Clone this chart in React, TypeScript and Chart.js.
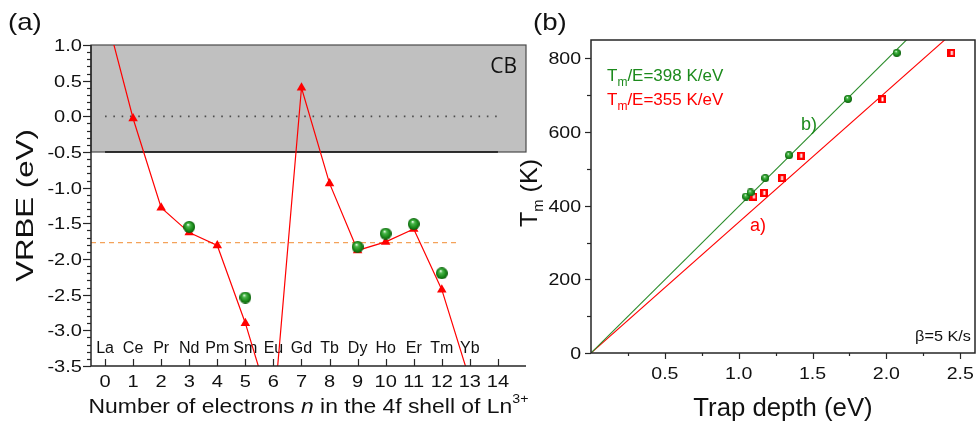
import React, { useEffect, useRef } from 'react';
import { Chart, registerables } from 'chart.js';
Chart.register(...registerables);

// ---------------- Panel (a) data ----------------
const ln2Electrons = [0, 1, 2, 3, 4, 5, 6, 7, 8, 9, 10, 11, 12, 13];
const ln2VRBE = [1.48, -0.03, -1.28, -1.63, -1.81, -2.9, -4.2, 0.4, -0.94, -1.88, -1.76, -1.58, -2.43, -3.7];
const trapElectrons = [3, 5, 9, 10, 11, 12];
const trapVRBE = [-1.55, -2.54, -1.83, -1.645, -1.51, -2.2];
const lnNames = ['La', 'Ce', 'Pr', 'Nd', 'Pm', 'Sm', 'Eu', 'Gd', 'Tb', 'Dy', 'Ho', 'Er', 'Tm', 'Yb'];
const lnNameN = [0, 1, 2, 3, 4, 5, 6, 7, 8, 9, 10, 11, 12, 13];
const lnNameVRBE = -3.32;
const electronTicks = [0, 1, 2, 3, 4, 5, 6, 7, 8, 9, 10, 11, 12, 13, 14];
const vrbeTicks = [1.0, 0.5, 0.0, -0.5, -1.0, -1.5, -2.0, -2.5, -3.0, -3.5];
const cbBottom = -0.5;
const cbTop = 1.0;
const vacuumLevel = 0;
const dashedLevel = -1.77;
const levelLineN = [0, 14];
const dashedLineN = [-0.5, 12.55];

// ---------------- Panel (b) data ----------------
const greenDepth = [1.05, 1.08, 1.18, 1.34, 1.74, 2.07];
const greenTm = [425, 436, 475, 537, 690, 815];
const redDepth = [1.1, 1.17, 1.29, 1.42, 1.97, 2.44];
const redTm = [425, 435, 475, 536, 689, 815];
const greenSlope = 398;
const redSlope = 355;
const fitDepth = [0, 2.6];
const depthTicks = [0.5, 1.0, 1.5, 2.0, 2.5];
const tmTicks = [0, 200, 400, 600, 800];

const FONT = '"Liberation Sans", Arial, sans-serif';
const GREEN = '#1c8a1c';
const RED = '#ff0000';
const AXIS = '#262626';

type Seg = { t: string; size: number; dy?: number; italic?: boolean; family?: string };

function drawRich(
  ctx: CanvasRenderingContext2D,
  segs: Seg[],
  x: number,
  y: number,
  align: 'left' | 'center' | 'right',
  color: string,
  rot = 0,
  sx = 1
) {
  ctx.save();
  ctx.translate(x, y);
  if (rot) ctx.rotate(rot);
  ctx.scale(sx, 1);
  ctx.fillStyle = color;
  ctx.textBaseline = 'alphabetic';
  ctx.textAlign = 'left';
  const fonts = segs.map((s) => `${s.italic ? 'italic ' : ''}${s.size}px ${s.family || FONT}`);
  let total = 0;
  const ws = segs.map((s, i) => {
    ctx.font = fonts[i];
    const w = ctx.measureText(s.t).width;
    total += w;
    return w;
  });
  let cx = align === 'left' ? 0 : align === 'center' ? -total / 2 : -total;
  segs.forEach((s, i) => {
    ctx.font = fonts[i];
    ctx.fillText(s.t, cx, s.dy || 0);
    cx += ws[i];
  });
  ctx.restore();
}

function makeSphere(d: number) {
  const c = document.createElement('canvas');
  c.width = d;
  c.height = d;
  const g = c.getContext('2d')!;
  const r = d / 2;
  const grad = g.createRadialGradient(r * 0.8, r * 0.6, r * 0.05, r, r, r);
  grad.addColorStop(0, '#f0fff0');
  grad.addColorStop(0.25, '#4cb84c');
  grad.addColorStop(0.7, '#1a8a1a');
  grad.addColorStop(1, '#0a5a0a');
  g.fillStyle = grad;
  g.beginPath();
  g.arc(r, r, r, 0, Math.PI * 2);
  g.fill();
  return c;
}

function makeHalfSquare(d: number) {
  const c = document.createElement('canvas');
  c.width = d;
  c.height = d;
  const g = c.getContext('2d')!;
  g.fillStyle = RED;
  g.fillRect(0, 0, d, d);
  g.fillStyle = '#ffffff';
  g.fillRect(d / 2 - 0.5, 2, 2, d - 4);
  return c;
}

const panelA = {
  id: 'panelA',
  beforeDatasetsDraw(chart: any) {
    const { ctx, chartArea: a, scales } = chart;
    const x = scales.x;
    const y = scales.y;
    ctx.save();
    const top = y.getPixelForValue(cbTop);
    const bot = y.getPixelForValue(cbBottom);
    ctx.fillStyle = '#c0c0c0';
    ctx.fillRect(a.left, top, a.right - a.left, bot - top);
    ctx.strokeStyle = '#4a4a4a';
    ctx.lineWidth = 1.2;
    ctx.strokeRect(a.left, top, a.right - a.left, bot - top);
    // conduction band bottom line
    ctx.strokeStyle = '#111';
    ctx.lineWidth = 1.5;
    ctx.beginPath();
    ctx.moveTo(x.getPixelForValue(levelLineN[0]), bot);
    ctx.lineTo(x.getPixelForValue(levelLineN[1]), bot);
    ctx.stroke();
    // dotted vacuum level
    const yv = y.getPixelForValue(vacuumLevel);
    ctx.strokeStyle = '#4d4d4d';
    ctx.lineWidth = 1.6;
    ctx.setLineDash([1.6, 6.7]);
    ctx.beginPath();
    ctx.moveTo(x.getPixelForValue(levelLineN[0]), yv);
    ctx.lineTo(x.getPixelForValue(levelLineN[1]), yv);
    ctx.stroke();
    // dashed orange level
    const yd = y.getPixelForValue(dashedLevel);
    ctx.strokeStyle = '#f4a25a';
    ctx.lineWidth = 1.3;
    ctx.setLineDash([5, 4]);
    ctx.beginPath();
    ctx.moveTo(x.getPixelForValue(dashedLineN[0]), yd);
    ctx.lineTo(x.getPixelForValue(dashedLineN[1]), yd);
    ctx.stroke();
    ctx.setLineDash([]);
    // element labels
    lnNames.forEach((nm, i) => {
      drawRich(ctx, [{ t: nm, size: 16 }], x.getPixelForValue(lnNameN[i]), y.getPixelForValue(lnNameVRBE), 'center', '#111');
    });
    // CB
    drawRich(ctx, [{ t: 'CB', size: 21, family: '"Open Sans", sans-serif' }], a.right - 9, top + 28, 'right', '#111');
    ctx.restore();
  },
  afterDraw(chart: any) {
    const { ctx, chartArea: a, scales } = chart;
    const x = scales.x;
    const y = scales.y;
    ctx.save();
    ctx.strokeStyle = AXIS;
    ctx.lineWidth = 1.5;
    ctx.beginPath();
    ctx.moveTo(a.left, a.top);
    ctx.lineTo(a.left, a.bottom);
    ctx.lineTo(a.right, a.bottom);
    ctx.stroke();
    ctx.lineWidth = 1.2;
    // y ticks (outward), minor every 0.1
    for (let k = -35; k <= 10; k++) {
      const v = k / 10;
      const py = Math.round(y.getPixelForValue(v)) + 0.5;
      const major = k % 5 === 0;
      ctx.beginPath();
      ctx.moveTo(a.left, py);
      ctx.lineTo(a.left - (major ? 8 : 4), py);
      ctx.stroke();
    }
    // x ticks (inward)
    electronTicks.forEach((n) => {
      const px = Math.round(x.getPixelForValue(n)) + 0.5;
      ctx.beginPath();
      ctx.moveTo(px, a.bottom);
      ctx.lineTo(px, a.bottom - 7);
      ctx.stroke();
    });
    vrbeTicks.forEach((v) => {
      drawRich(ctx, [{ t: v.toFixed(1), size: 17 }], a.left - 9, y.getPixelForValue(v) + 6, 'right', '#111', 0, 1.18);
    });
    electronTicks.forEach((n) => {
      drawRich(ctx, [{ t: String(n), size: 17 }], x.getPixelForValue(n), 387, 'center', '#111', 0, 1.18);
    });
    // axis titles
    drawRich(
      ctx,
      [
        { t: 'Number of electrons ', size: 21 },
        { t: 'n', size: 21, italic: true },
        { t: ' in the 4f shell of Ln', size: 21 },
        { t: '3+', size: 13, dy: -10 },
      ],
      (a.left + a.right) / 2,
      413,
      'center',
      '#111',
      0,
      1.09
    );
    drawRich(ctx, [{ t: 'VRBE (eV)', size: 24 }], 33, (a.top + a.bottom) / 2, 'center', '#111', -Math.PI / 2, 1.3);
    drawRich(ctx, [{ t: '(a)', size: 24 }], 8, 30, 'left', '#111', 0, 1.15);
    ctx.restore();
  },
};

const panelB = {
  id: 'panelB',
  afterDraw(chart: any) {
    const { ctx, chartArea: a, scales } = chart;
    const x = scales.x;
    const y = scales.y;
    ctx.save();
    ctx.strokeStyle = AXIS;
    ctx.lineWidth = 1.5;
    ctx.strokeRect(a.left, a.top, a.right - a.left, a.bottom - a.top);
    ctx.lineWidth = 1.2;
    for (let v = 0; v <= 800; v += 100) {
      const py = Math.round(y.getPixelForValue(v)) + 0.5;
      const major = v % 200 === 0;
      ctx.beginPath();
      ctx.moveTo(a.left, py);
      ctx.lineTo(a.left - (major ? 6 : 4), py);
      ctx.stroke();
    }
    for (let k = 1; k <= 10; k++) {
      const v = k * 0.25;
      const px = Math.round(x.getPixelForValue(v)) + 0.5;
      const major = k % 2 === 0;
      ctx.beginPath();
      ctx.moveTo(px, a.bottom);
      ctx.lineTo(px, a.bottom + (major ? 6 : 3));
      ctx.stroke();
    }
    tmTicks.forEach((v) => {
      drawRich(ctx, [{ t: String(v), size: 17 }], a.left - 10, y.getPixelForValue(v) + 6, 'right', '#111', 0, 1.15);
    });
    depthTicks.forEach((v) => {
      drawRich(ctx, [{ t: v.toFixed(1), size: 17 }], x.getPixelForValue(v), 379, 'center', '#111', 0, 1.15);
    });
    drawRich(ctx, [{ t: 'Trap depth (eV)', size: 25 }], (a.left + a.right) / 2, 416, 'center', '#111', 0, 1.03);
    drawRich(
      ctx,
      [
        { t: 'T', size: 24 },
        { t: 'm', size: 14, dy: 6 },
        { t: ' (K)', size: 24 },
      ],
      537,
      193,
      'center',
      '#111',
      -Math.PI / 2,
      1.05
    );
    drawRich(ctx, [{ t: '(b)', size: 24 }], 533, 30, 'left', '#111', 0, 1.15);
    drawRich(
      ctx,
      [
        { t: 'T', size: 17 },
        { t: 'm', size: 12, dy: 5 },
        { t: '/E=' + greenSlope + ' K/eV', size: 17 },
      ],
      607,
      81,
      'left',
      GREEN
    );
    drawRich(
      ctx,
      [
        { t: 'T', size: 17 },
        { t: 'm', size: 12, dy: 5 },
        { t: '/E=' + redSlope + ' K/eV', size: 17 },
      ],
      607,
      105,
      'left',
      RED
    );
    drawRich(ctx, [{ t: 'b)', size: 18 }], 801, 130, 'left', GREEN);
    drawRich(ctx, [{ t: 'a)', size: 18 }], 750, 231, 'left', RED);
    drawRich(ctx, [{ t: 'β=5 K/s', size: 15.5 }], 971, 341, 'right', '#111', 0, 1.05);
    ctx.restore();
  },
};

function hiddenScale(min: number, max: number, size: number, vertical: boolean) {
  return {
    type: 'linear' as const,
    min,
    max,
    grid: { display: false, drawTicks: false },
    border: { display: false },
    ticks: { display: false },
    afterFit: (s: any) => {
      if (vertical) s.width = size;
      else s.height = size;
    },
  };
}

export default function App() {
  const refA = useRef<HTMLCanvasElement>(null);
  const refB = useRef<HTMLCanvasElement>(null);

  useEffect(() => {
    const sphereBig = makeSphere(12);
    const sphereSmall = makeSphere(8);
    const square = makeHalfSquare(8);

    const chartA = new Chart(refA.current!, {
      type: 'line',
      data: {
        datasets: [
          {
            label: 'traps',
            data: trapElectrons.map((n, i) => ({ x: n, y: trapVRBE[i] })),
            showLine: false,
            pointStyle: sphereBig as any,
            pointRadius: 6,
            order: 0,
          },
          {
            label: 'Ln2+',
            data: ln2Electrons.map((n, i) => ({ x: n, y: ln2VRBE[i] })),
            borderColor: RED,
            borderWidth: 1.2,
            pointStyle: 'triangle',
            pointRadius: 5.5,
            pointBackgroundColor: RED,
            pointBorderColor: RED,
            pointBorderWidth: 0,
            tension: 0,
            clip: 0,
            order: 1,
          },
        ],
      },
      options: {
        responsive: false,
        animation: false,
        events: [],
        layout: { padding: { left: 0, right: 454, top: 45, bottom: 0 } },
        plugins: { legend: { display: false }, tooltip: { enabled: false } },
        scales: {
          x: hiddenScale(-0.5, 15, 56, false),
          y: hiddenScale(-3.5, 1.0, 91, true),
        },
      },
      plugins: [panelA],
    } as any);

    const chartB = new Chart(refB.current!, {
      type: 'line',
      data: {
        datasets: [
          {
            label: 'b',
            data: greenDepth.map((v, i) => ({ x: v, y: greenTm[i] })),
            showLine: false,
            pointStyle: sphereSmall as any,
            order: 0,
          },
          {
            label: 'a',
            data: redDepth.map((v, i) => ({ x: v, y: redTm[i] })),
            showLine: false,
            pointStyle: square as any,
            order: 0,
          },
          {
            label: 'fit b',
            data: fitDepth.map((v) => ({ x: v, y: v * greenSlope })),
            borderColor: '#2a8c2a',
            borderWidth: 1.1,
            pointRadius: 0,
            clip: 0,
            order: 2,
          },
          {
            label: 'fit a',
            data: fitDepth.map((v) => ({ x: v, y: v * redSlope })),
            borderColor: RED,
            borderWidth: 1.1,
            pointRadius: 0,
            clip: 0,
            order: 2,
          },
        ],
      },
      options: {
        responsive: false,
        animation: false,
        events: [],
        layout: { padding: { left: 535, right: 1, top: 40, bottom: 0 } },
        plugins: { legend: { display: false }, tooltip: { enabled: false } },
        scales: {
          x: hiddenScale(0, 2.6, 69, false),
          y: hiddenScale(0, 850, 56, true),
        },
      },
      plugins: [panelB],
    } as any);

    return () => {
      chartA.destroy();
      chartB.destroy();
    };
  }, []);

  const cs: React.CSSProperties = { position: 'absolute', left: 0, top: 0, width: 980, height: 422 };
  return (
    <div style={{ position: 'fixed', left: 0, top: 0, width: 980, height: 422, background: '#ffffff' }}>
      <canvas ref={refA} width={980} height={422} style={cs} />
      <canvas ref={refB} width={980} height={422} style={cs} />
    </div>
  );
}
